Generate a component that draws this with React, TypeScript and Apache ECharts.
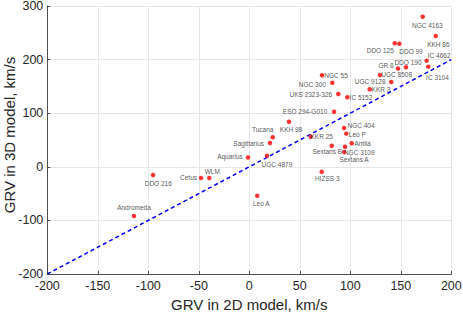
import React, { useEffect, useRef } from "react";
import * as echarts from "echarts";

const galaxyNames = [
  "NGC 4163", "KKH 86", "DDO 125", "DDO 99", "IC 4662", "IC 3104", "DDO 190", "GR 8",
  "UGC 8508", "UGC 9128", "KKR 3", "NGC 55", "NGC 300", "UKS 2323-326", "IC 5152",
  "ESO 294-G010", "KKH 98", "Tucana", "Sagittarius", "Aquarius", "UGC 4879", "KKR 25",
  "NGC 404", "Leo P", "Antlia", "Sextans B", "NGC 3109", "Sextans A", "HIZSS 3", "Leo A",
  "DDO 216", "Cetus", "WLM", "Andromeda",
];

const grv2D = [
  171.7, 184.6, 144, 148.5, 175.6, 177.2, 155.1, 147.2,
  129.4, 140.5, 119.2, 72, 82.2, 88.1, 97,
  83.9, 39.3, 23.2, 20.5, -1.3, 17.5, 60.8,
  93.8, 96, 101.4, 81.6, 94, 94.8, 71.7, 7.9,
  -95.3, -47.8, -39.6, -114.2,
];

const grv3D = [
  280, 244, 230.4, 229.7, 198, 186.8, 185.6, 183.4,
  171.3, 158.2, 144.6, 170.7, 156.9, 135.8, 129.7,
  102.8, 84.1, 55, 44.4, 17.4, 20.7, 56.2,
  72.4, 61.8, 43.8, 39.4, 27.6, 37.5, -9.1, -53.9,
  -15.3, -20.9, -20.9, -91.8,
];

const xTickRange = [-200, 200];
const yTickRange = [-200, 300];
const equalityLine = [-200, 200];

const xTitle = "GRV in 2D model, km/s";
const yTitle = "GRV in 3D model, km/s";

// label offsets (pixels) from each dot — presentation only
const labelOffsets: Record<string, [number, number]> = {
  "NGC 4163": [4.6, 8.3],
  "KKH 86": [2.6, 8.5],
  "DDO 125": [-14.5, 7],
  "DDO 99": [11.7, 8],
  "IC 4662": [12.5, -5.4],
  "IC 3104": [9.2, 11.3],
  "DDO 190": [2, -4.6],
  "GR 8": [-12, -2.5],
  "UGC 8508": [16.7, 0],
  "UGC 9128": [-21, -1],
  "KKR 3": [11.3, 0],
  "NGC 55": [14, 0],
  "NGC 300": [-20, 1.5],
  "UKS 2323-326": [-27.5, 0],
  "IC 5152": [13.7, 0],
  "ESO 294-G010": [-29, 0],
  "KKH 98": [2, 7.6],
  "Tucana": [-10, -8],
  "Sagittarius": [-21.3, 0],
  "Aquarius": [-18, -1],
  "UGC 4879": [10, 8.6],
  "KKR 25": [11, 0],
  "NGC 404": [17, -2.3],
  "Leo P": [11, 0.6],
  "Antlia": [10.8, 0],
  "Sextans B": [-4.4, 6.3],
  "NGC 3109": [15, 0],
  "Sextans A": [9, 12.6],
  "HIZSS 3": [5.5, 7],
  "Leo A": [4, 7.6],
  "DDO 216": [5.2, 8.3],
  "Cetus": [-12.5, -1],
  "WLM": [3, -6.3],
  "Andromeda": [0, -8.7],
};

const FONT = "'Liberation Sans', Arial, Helvetica, sans-serif";

export default function App() {
  const ref = useRef<HTMLDivElement>(null);

  useEffect(() => {
    if (!ref.current) return;
    const chart = echarts.init(ref.current, undefined, { renderer: "svg" });

    const points = galaxyNames.map((name, i) => ({
      name,
      value: [grv2D[i], grv3D[i]],
      label: {
        show: true,
        formatter: name,
        position: "inside",
        align: "center",
        verticalAlign: "middle",
        offset: labelOffsets[name] || [0, 0],
        fontSize: 6.5,
        fontFamily: FONT,
        color: "#262626",
      },
    }));

    chart.setOption({
      animation: false,
      backgroundColor: "#ffffff",
      grid: {
        left: 47.3,
        top: 6,
        width: 404,
        height: 268,
        containLabel: false,
        outerBoundsMode: "none",
      },
      graphic: [
        {
          type: "text",
          x: 9,
          y: 135,
          rotation: Math.PI / 2,
          style: {
            text: yTitle,
            fontSize: 15,
            fontFamily: FONT,
            fill: "#262626",
            align: "center",
            verticalAlign: "middle",
          },
        },
      ],
      xAxis: {
        type: "value",
        min: xTickRange[0],
        max: xTickRange[1],
        interval: 50,
        name: xTitle,
        nameLocation: "middle",
        nameGap: 23,
        nameTextStyle: { fontSize: 15, fontFamily: FONT, color: "#262626" },
        axisLine: { show: true, onZero: false, lineStyle: { color: "#4d4d4d", width: 1 } },
        axisTick: { show: true, inside: true, length: 3, lineStyle: { color: "#4d4d4d" } },
        axisLabel: { fontSize: 12.5, fontFamily: FONT, color: "#262626", margin: 5 },
        splitLine: { show: true, lineStyle: { color: "#e6e6e6", width: 1 } },
      },
      yAxis: {
        type: "value",
        min: yTickRange[0],
        max: yTickRange[1],
        interval: 100,
        axisLine: { show: true, onZero: false, lineStyle: { color: "#4d4d4d", width: 1 } },
        axisTick: { show: true, inside: true, length: 3, lineStyle: { color: "#4d4d4d" } },
        axisLabel: { fontSize: 12.5, fontFamily: FONT, color: "#262626", margin: 4 },
        splitLine: { show: true, lineStyle: { color: "#e6e6e6", width: 1 } },
      },
      series: [
        {
          type: "line",
          data: [
            [equalityLine[0], equalityLine[0]],
            [equalityLine[1], equalityLine[1]],
          ],
          symbol: "none",
          silent: true,
          lineStyle: { color: "#0000ff", width: 1.5, type: [4, 3] },
          z: 2,
        },
        {
          type: "scatter",
          data: points,
          symbol: "circle",
          symbolSize: 4.5,
          itemStyle: { color: "#ff0000" },
          z: 3,
        },
      ],
    });

    return () => chart.dispose();
  }, []);

  return (
    <div
      ref={ref}
      style={{ position: "fixed", left: 0, top: 0, width: 463, height: 314 }}
    />
  );
}
